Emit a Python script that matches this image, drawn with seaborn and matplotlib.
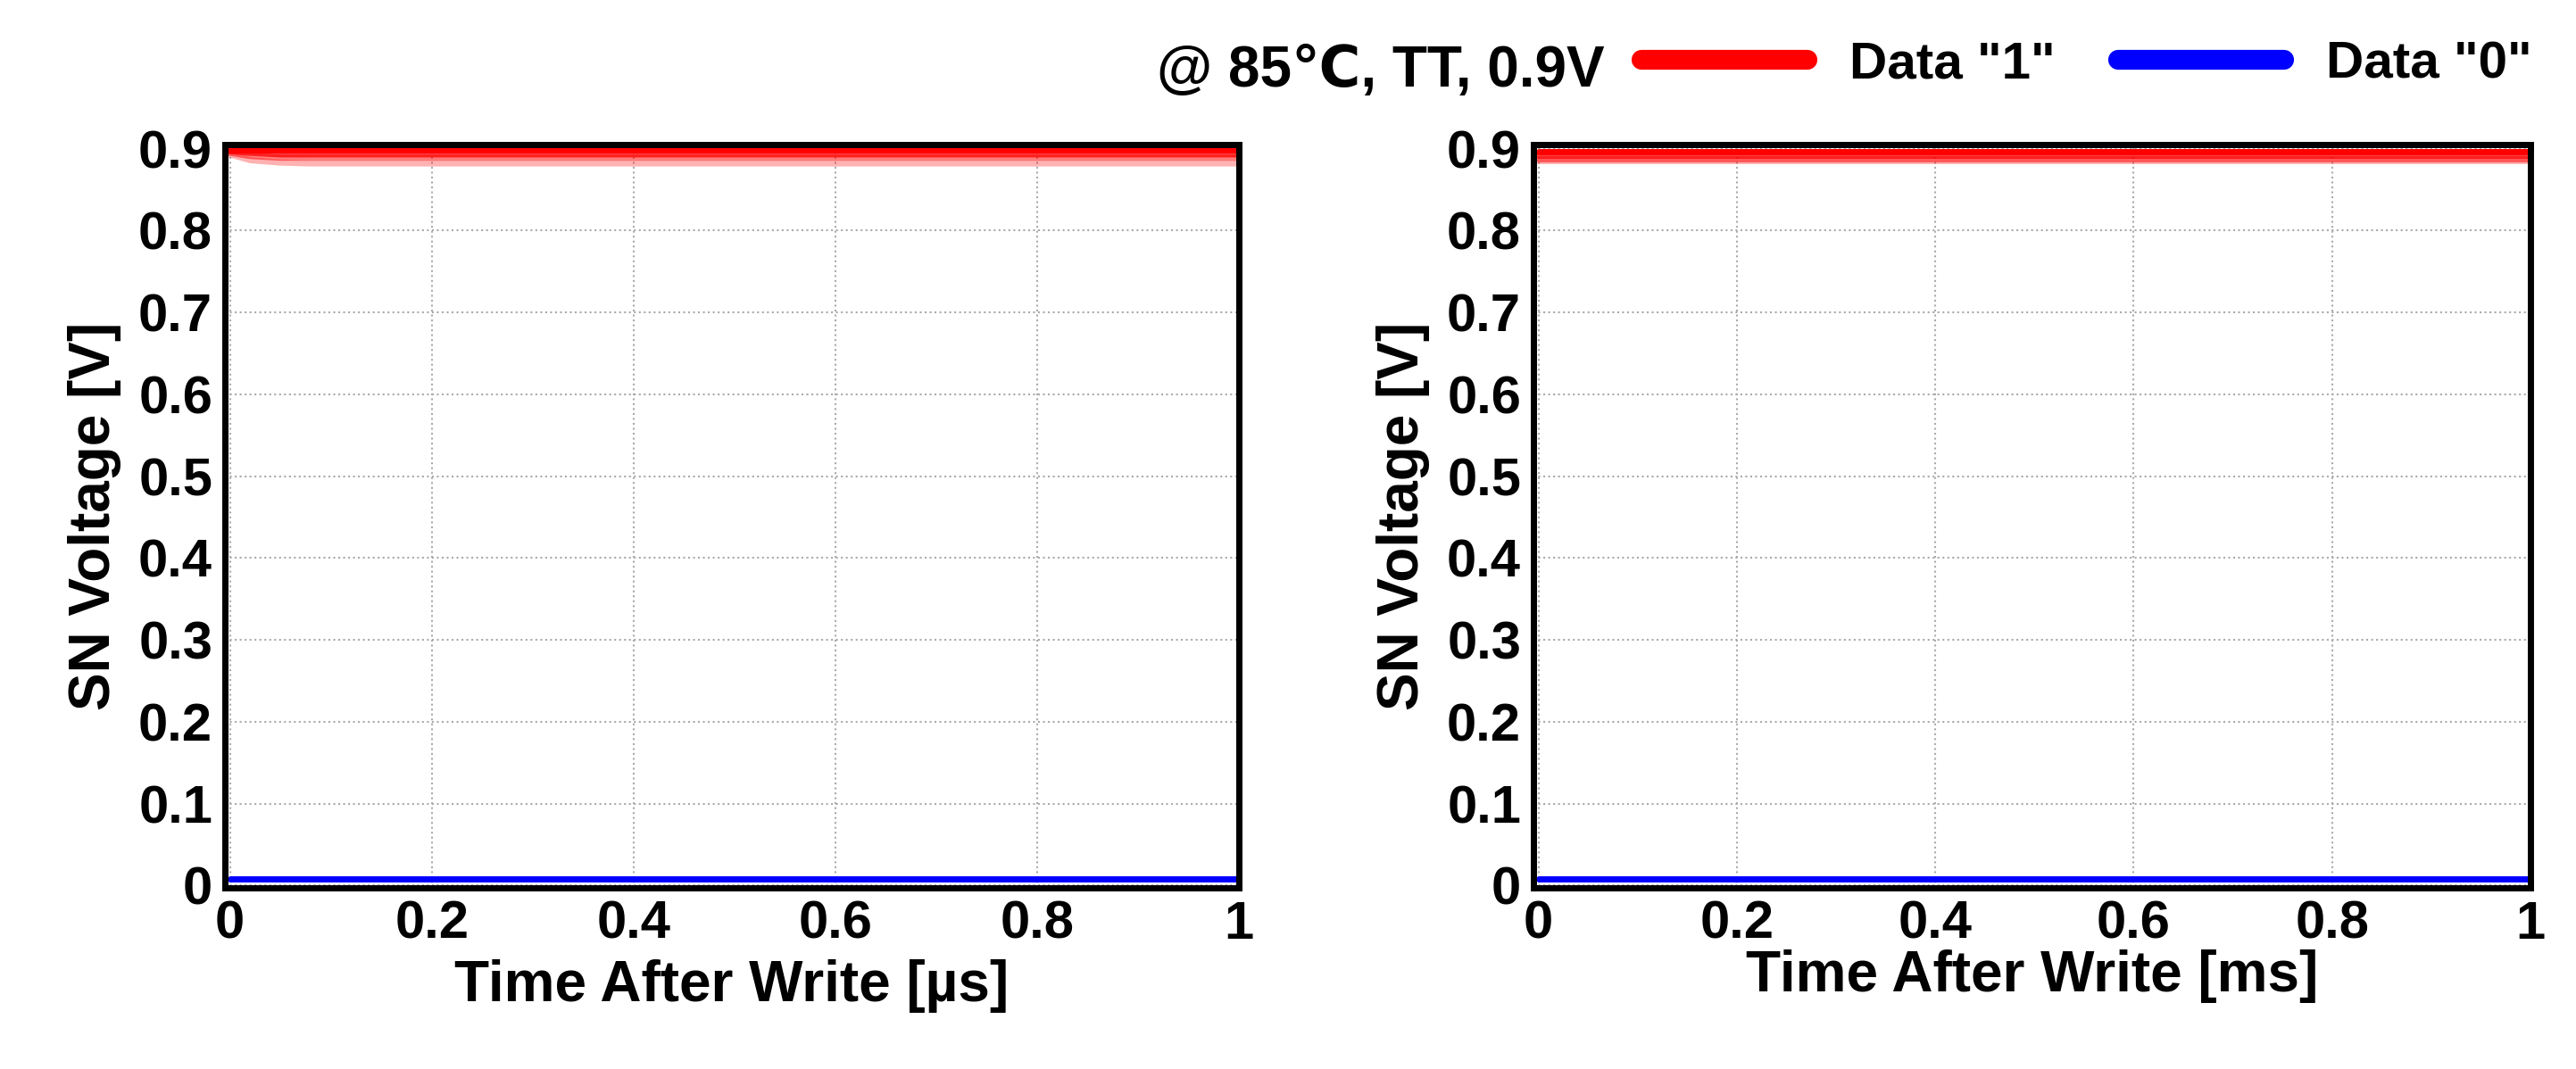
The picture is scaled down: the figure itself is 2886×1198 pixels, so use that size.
import numpy as np
import matplotlib
matplotlib.use("Agg")
import matplotlib.pyplot as plt
import seaborn as sns
import pandas as pd
from matplotlib.lines import Line2D

sns.set_theme(style="white")
plt.rcParams['font.family'] = ['Liberation Sans', 'DejaVu Sans']
plt.rcParams['font.weight'] = 'bold'
plt.rcParams['text.color'] = 'black'
plt.rcParams['axes.labelcolor'] = 'black'
plt.rcParams['xtick.color'] = 'black'
plt.rcParams['ytick.color'] = 'black'

# time points (fraction of full scale)
t = [0.0, 0.02, 0.05, 0.08, 0.1, 0.15, 0.2, 0.4, 0.6, 0.8, 1.0]
# left panel (µs) data "1" traces
us_1a = [0.899, 0.899, 0.899, 0.899, 0.899, 0.899, 0.899, 0.899, 0.899, 0.899, 0.899]
us_1b = [0.897, 0.895, 0.893, 0.893, 0.893, 0.893, 0.893, 0.893, 0.893, 0.893, 0.893]
us_1c = [0.895, 0.891, 0.889, 0.889, 0.889, 0.889, 0.889, 0.889, 0.889, 0.889, 0.889]
us_1d = [0.893, 0.886, 0.883, 0.882, 0.882, 0.882, 0.882, 0.882, 0.882, 0.882, 0.882]
us_0 = [0.008] * 11
# right panel (ms)
ms_1a = [0.896] * 11
ms_1b = [0.892] * 11
ms_1c = [0.888] * 11
ms_1d = [0.885] * 11
ms_0 = [0.008] * 11

xticks = [0, 0.2, 0.4, 0.6, 0.8, 1]
yticks = [0, 0.1, 0.2, 0.3, 0.4, 0.5, 0.6, 0.7, 0.8, 0.9]

W, H = 2886, 1198
fig = plt.figure(figsize=(W/100, H/100), dpi=100)
ax1 = fig.add_axes([252/W, 1-995/H, (1388-252)/W, (995-162)/H])
ax2 = fig.add_axes([1718/W, 1-995/H, (2835-1718)/W, (995-162)/H])

def draw(ax, traces, zero, xlabel):
    alphas = [1.0, 0.75, 0.5, 0.3]
    for tr, a in zip(traces, alphas):
        sns.lineplot(x=t, y=tr, ax=ax, color='red', alpha=a, lw=5)
    sns.lineplot(x=t, y=zero, ax=ax, color='blue', lw=5)
    ax.set_xlim(-0.005, 1.0)
    ax.set_ylim(-0.003, 0.905)
    ax.set_xticks(xticks)
    ax.set_xticklabels(['0', '0.2', '0.4', '0.6', '0.8', '1'])
    ax.set_yticks(yticks)
    ax.set_yticklabels(['0', '0.1', '0.2', '0.3', '0.4', '0.5', '0.6', '0.7', '0.8', '0.9'])
    ax.tick_params(labelsize=43, length=0, pad=10)
    for lab in ax.get_xticklabels() + ax.get_yticklabels():
        lab.set_fontweight('bold')
    ax.grid(True, ls=':', color='#aaaaaa', lw=1.5)
    for s in ax.spines.values():
        s.set_color('black'); s.set_linewidth(5)
    ax.set_xlabel(xlabel, fontsize=46, fontweight='bold', labelpad=8)
    ax.set_ylabel('SN Voltage [V]', fontsize=46, fontweight='bold', labelpad=14)

draw(ax1, [us_1a, us_1b, us_1c, us_1d], us_0, 'Time After Write [µs]')
draw(ax2, [ms_1a, ms_1b, ms_1c, ms_1d], ms_0, 'Time After Write [ms]')
ax2.xaxis.labelpad = 0

fig.text(1296/W, 1-80/H, '@ 85℃, TT, 0.9V', fontsize=46, fontweight='bold',
         ha='left', va='center', family=['Liberation Sans', 'DejaVu Sans'])
h = [Line2D([], [], color='red', lw=16), Line2D([], [], color='blue', lw=16)]
fig.legend(h, ['Data "1"', 'Data "0"'], loc='center right', bbox_to_anchor=(2860/W, 1-72/H),
           ncol=2, frameon=False, prop={'size': 42, 'weight': 'bold'},
           handlelength=3.2, columnspacing=1.2, handletextpad=0.8, borderaxespad=0)
fig.savefig('out.png', dpi=100)
